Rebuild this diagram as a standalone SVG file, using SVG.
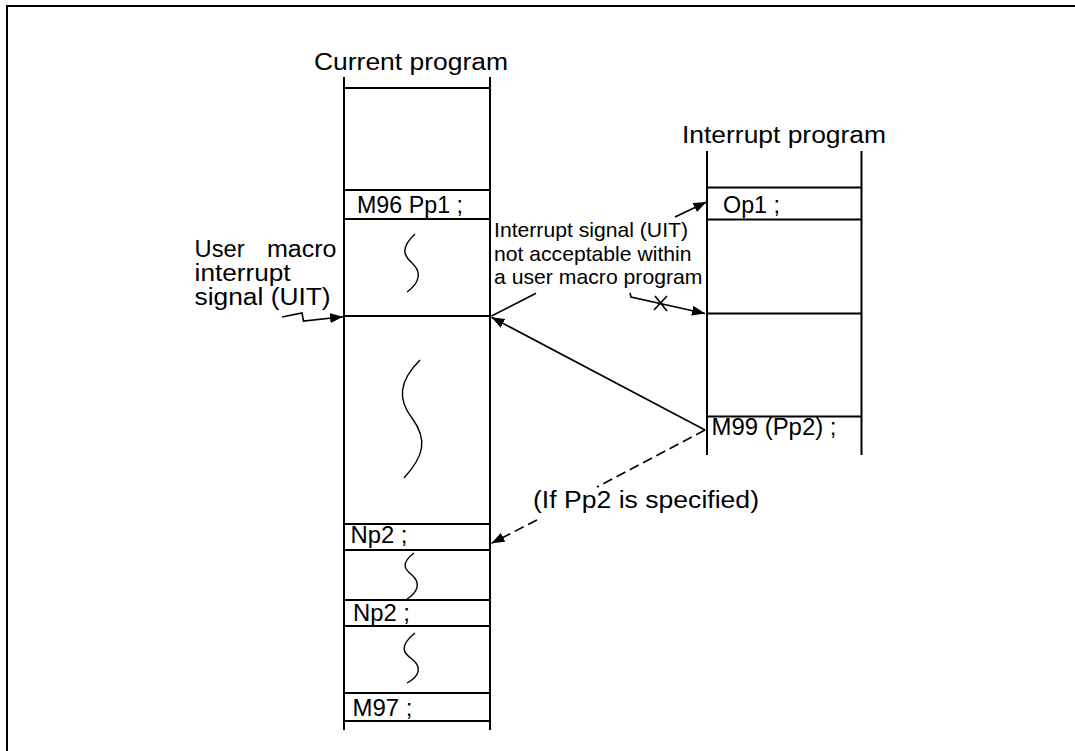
<svg xmlns="http://www.w3.org/2000/svg" width="1075" height="751" viewBox="0 0 1075 751">
<style>
  .ln{stroke:#000;stroke-width:2;fill:none}
  .cv{stroke:#000;stroke-width:1.4;fill:none}
  .ar{stroke:#000;stroke-width:1.6;fill:none}
  .t{font-family:"Liberation Sans",Arial,sans-serif;font-size:23.5px;fill:#000}
  .s{font-family:"Liberation Sans",Arial,sans-serif;font-size:21px;fill:#000}
</style>
<defs>
  <marker id="ah" markerUnits="userSpaceOnUse" markerWidth="14" markerHeight="10" refX="13" refY="5" orient="auto">
    <path d="M0,0 L13,5 L0,10 z" fill="#000"/>
  </marker>
</defs>
<rect x="0" y="0" width="1075" height="751" fill="#fff"/>
<rect x="7" y="6" width="1100" height="800" fill="none" stroke="#000" stroke-width="2"/>

<g id="current-program">
  <text class="t" x="314" y="70" textLength="194" lengthAdjust="spacingAndGlyphs">Current program</text>
  <line class="ln" x1="344" y1="77" x2="344" y2="730"/>
  <line class="ln" x1="490" y1="77" x2="490" y2="730"/>
  <line class="ln" x1="344" y1="88" x2="490" y2="88"/>
  <line class="ln" x1="344" y1="190" x2="490" y2="190"/>
  <line class="ln" x1="344" y1="219" x2="490" y2="219"/>
  <line class="ln" x1="344" y1="316" x2="490" y2="316"/>
  <line class="ln" x1="344" y1="524" x2="490" y2="524"/>
  <line class="ln" x1="344" y1="550" x2="490" y2="550"/>
  <line class="ln" x1="344" y1="600" x2="490" y2="600"/>
  <line class="ln" x1="344" y1="626" x2="490" y2="626"/>
  <line class="ln" x1="344" y1="693" x2="490" y2="693"/>
  <line class="ln" x1="344" y1="721" x2="490" y2="721"/>
  <text class="t" x="357" y="213" textLength="106" lengthAdjust="spacingAndGlyphs">M96 Pp1 ;</text>
  <text class="t" x="350.5" y="543" textLength="57" lengthAdjust="spacingAndGlyphs">Np2 ;</text>
  <text class="t" x="353" y="620.5" textLength="57" lengthAdjust="spacingAndGlyphs">Np2 ;</text>
  <text class="t" x="352.5" y="716" textLength="60" lengthAdjust="spacingAndGlyphs">M97 ;</text>
  <path class="cv" d="M415,234 C400,248 404,256 412,263 C421,271 421,282 407,292"/>
  <path class="cv" d="M420,360 C398,382 398,400 412,418 C428,440 424,456 404,478"/>
  <path class="cv" d="M414,553 C401,563 404,569 412,575 C421,583 418,592 407,599"/>
  <path class="cv" d="M415,633 C399,646 403,653 412,659 C422,667 420,676 407,683"/>
</g>

<g id="interrupt-program">
  <text class="t" x="682" y="143" textLength="204" lengthAdjust="spacingAndGlyphs">Interrupt program</text>
  <line class="ln" x1="707" y1="151" x2="707" y2="455"/>
  <line class="ln" x1="861.5" y1="151" x2="861.5" y2="455"/>
  <line class="ln" x1="707" y1="187.5" x2="861.5" y2="187.5"/>
  <line class="ln" x1="707" y1="219.5" x2="861.5" y2="219.5"/>
  <line class="ln" x1="707" y1="313.5" x2="861.5" y2="313.5"/>
  <line class="ln" x1="707" y1="416.5" x2="861.5" y2="416.5"/>
  <text class="t" x="723" y="212.5" textLength="57" lengthAdjust="spacingAndGlyphs">Op1 ;</text>
  <text class="t" x="711.5" y="435" textLength="125" lengthAdjust="spacingAndGlyphs">M99 (Pp2) ;</text>
</g>

<g id="uit-label">
  <text class="t" x="194.6" y="256.7" textLength="50" lengthAdjust="spacingAndGlyphs">User</text>
  <text class="t" x="267" y="256.7" textLength="69.5" lengthAdjust="spacingAndGlyphs">macro</text>
  <text class="t" x="194.6" y="280.5" textLength="96" lengthAdjust="spacingAndGlyphs">interrupt</text>
  <text class="t" x="194.6" y="305" textLength="136" lengthAdjust="spacingAndGlyphs">signal (UIT)</text>
</g>

<g id="not-acceptable-label">
  <text class="s" x="494" y="236.7" textLength="194" lengthAdjust="spacingAndGlyphs">Interrupt signal (UIT)</text>
  <text class="s" x="494" y="260.7" textLength="197.5" lengthAdjust="spacingAndGlyphs">not acceptable within</text>
  <text class="s" x="494" y="284" textLength="208.5" lengthAdjust="spacingAndGlyphs">a user macro program</text>
</g>

<g id="if-label">
  <text class="t" x="533" y="508" textLength="226" lengthAdjust="spacingAndGlyphs">(If Pp2 is specified)</text>
</g>

<g id="connectors">
  <path class="ar" d="M282,317 L302,313 L303.5,321 L343,316.7" marker-end="url(#ah)"/>
  <path class="ar" d="M675,217 L706.5,202" marker-end="url(#ah)"/>
  <path class="ar" d="M630,293 L631,297 L705,313.5" marker-end="url(#ah)"/>
  <path class="ar" d="M655,296 L667,311 M654,310 L667,296"/>
  <path class="ar" d="M536,293.3 L491.5,316"/>
  <path class="ar" d="M705,430 L491.5,317.3" marker-end="url(#ah)"/>
  <path class="ar" d="M705,430 L597,487" stroke-dasharray="10 5"/>
  <path class="ar" d="M537,520 L491.5,543.3" stroke-dasharray="10 5" marker-end="url(#ah)"/>
</g>
</svg>
